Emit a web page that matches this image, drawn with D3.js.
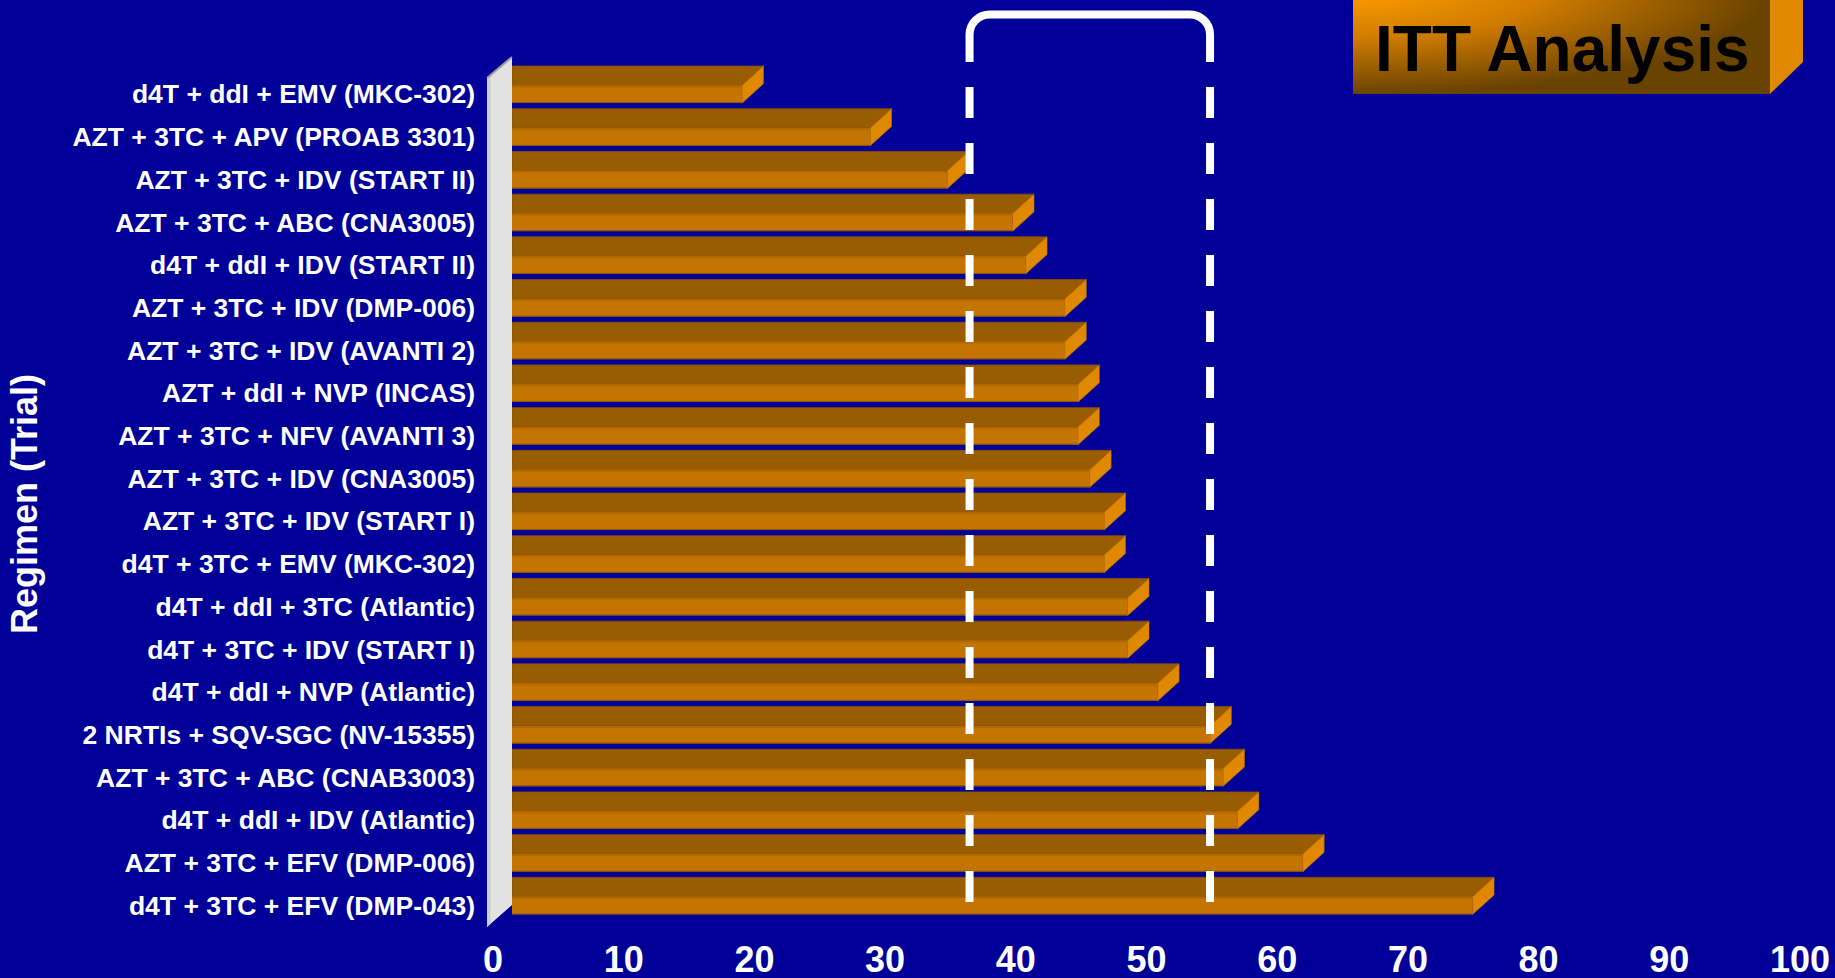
<!DOCTYPE html>
<html>
<head>
<meta charset="utf-8">
<script src="https://cdn.jsdelivr.net/npm/d3@7/dist/d3.min.js"></script>
<style>
  html, body { margin: 0; padding: 0; background: #000099; overflow: hidden; }
  svg { display: block; font-family: "Liberation Sans", Arial, sans-serif; }
</style>
</head>
<body>
<svg id="chart" width="1835" height="978"></svg>
<script>
// Regimens (trial), listed top to bottom
const categories = [
  "d4T + ddI + EMV (MKC-302)",
  "AZT + 3TC + APV (PROAB 3301)",
  "AZT + 3TC + IDV (START II)",
  "AZT + 3TC + ABC (CNA3005)",
  "d4T + ddI + IDV (START II)",
  "AZT + 3TC + IDV (DMP-006)",
  "AZT + 3TC + IDV (AVANTI 2)",
  "AZT + ddI + NVP (INCAS)",
  "AZT + 3TC + NFV (AVANTI 3)",
  "AZT + 3TC + IDV (CNA3005)",
  "AZT + 3TC + IDV (START I)",
  "d4T + 3TC + EMV (MKC-302)",
  "d4T + ddI + 3TC (Atlantic)",
  "d4T + 3TC + IDV (START I)",
  "d4T + ddI + NVP (Atlantic)",
  "2 NRTIs + SQV-SGC (NV-15355)",
  "AZT + 3TC + ABC (CNAB3003)",
  "d4T + ddI + IDV (Atlantic)",
  "AZT + 3TC + EFV (DMP-006)",
  "d4T + 3TC + EFV (DMP-043)"
];

// ITT response (%) per regimen
const values = [
  19.1, 28.9, 34.8, 39.8, 40.8, 43.8, 43.8, 44.8, 44.8, 45.7,
  46.8, 46.8, 48.6, 48.6, 50.9, 54.9, 55.9, 57.0, 62.0, 75.0
];

// Value axis ticks
const xTicks = [0, 10, 20, 30, 40, 50, 60, 70, 80, 90, 100];

// Bracketed reference range on the value axis
const rangeBounds = [36.5, 54.9];

const titleText = "ITT Analysis";
const yTitle = "Regimen (Trial)";

const svg = d3.select("#chart");

const x = d3.scaleLinear().domain([0, 100]).range([492.5, 1799.5]);
const y = d3.scaleBand().domain(categories).range([72.85, 926.85]).padding(0);

// 3D extrusion offsets
const depthX = 21.3, depthY = 19.3, faceH = 17.7;
const wallFront = 487, wallBack = 512;

// ---- title box ----
const defs = svg.append("defs");
const tg = defs.append("radialGradient")
  .attr("id", "titleGrad")
  .attr("gradientUnits", "objectBoundingBox")
  .attr("cx", 0).attr("cy", 0).attr("fx", 0).attr("fy", 0).attr("r", 1);
tg.append("stop").attr("offset", "0%").attr("stop-color", "#ff9e00");
tg.append("stop").attr("offset", "45%").attr("stop-color", "#d27d00");
tg.append("stop").attr("offset", "100%").attr("stop-color", "#6a4300");

const tb = { x0: 1353, x1: 1770, y0: -10, y1: 94, dx: 33, dy: 32 };
svg.append("polygon")
  .attr("points", [[tb.x1, tb.y0], [tb.x1 + tb.dx, tb.y0], [tb.x1 + tb.dx, tb.y1 - tb.dy], [tb.x1, tb.y1]].join(" "))
  .attr("fill", "#e08800");
svg.append("rect")
  .attr("x", tb.x0).attr("y", tb.y0)
  .attr("width", tb.x1 - tb.x0).attr("height", tb.y1 - tb.y0)
  .attr("fill", "url(#titleGrad)");
svg.append("text")
  .attr("x", 1375).attr("y", 71)
  .attr("font-size", 64).attr("font-weight", "bold")
  .attr("fill", "#000")
  .text(titleText);

// ---- bars ----
const bars = svg.append("g").attr("class", "bars");
const rows = categories.map((c, i) => ({ cat: c, v: values[i] }));

const barG = bars.selectAll("g").data(rows).join("g");

barG.each(function (d) {
  const g = d3.select(this);
  const c = y(d.cat) + y.bandwidth() / 2;
  const ft = c - faceH / 2;
  const xe = x(d.v);
  // top face
  g.append("polygon")
    .attr("points", [[wallBack, ft], [wallBack, ft - depthY], [xe + depthX, ft - depthY], [xe, ft]].join(" "))
    .attr("fill", "#9a5c00")
    .attr("stroke", "#8a5200").attr("stroke-width", 0.8);
  // front face
  g.append("rect")
    .attr("x", wallBack).attr("y", ft)
    .attr("width", xe - wallBack).attr("height", faceH)
    .attr("fill", "#c47400");
  g.append("rect")
    .attr("x", wallBack).attr("y", ft)
    .attr("width", xe - wallBack).attr("height", 2)
    .attr("fill", "#b06a00");
  g.append("line")
    .attr("x1", wallBack).attr("x2", xe)
    .attr("y1", ft + faceH - 0.5).attr("y2", ft + faceH - 0.5)
    .attr("stroke", "#8e5500").attr("stroke-width", 1);
  // end cap
  g.append("polygon")
    .attr("points", [[xe, ft], [xe + depthX, ft - depthY], [xe + depthX, ft - depthY + faceH], [xe, ft + faceH]].join(" "))
    .attr("fill", "#e08800")
    .attr("stroke", "#c27400").attr("stroke-width", 0.6);
});

// ---- side wall ----
svg.append("polygon")
  .attr("points", [[wallFront, 78], [wallBack, 57], [wallBack, 905], [wallFront, 927]].join(" "))
  .attr("fill", "#e2e2e2");
svg.append("polygon")
  .attr("points", [[wallFront, 78], [wallFront + 3.5, 75], [wallFront + 3.5, 924], [wallFront, 927]].join(" "))
  .attr("fill", "#cdcdcd");
svg.append("line")
  .attr("x1", wallFront).attr("y1", 78).attr("x2", wallBack).attr("y2", 57)
  .attr("stroke", "#9c9c9c").attr("stroke-width", 2);

// ---- category labels ----
svg.append("g").selectAll("text").data(categories).join("text")
  .attr("x", 475)
  .attr("y", d => y(d) + y.bandwidth() / 2)
  .attr("dy", "0.35em")
  .attr("text-anchor", "end")
  .attr("font-size", 26.5).attr("font-weight", "bold")
  .attr("fill", "#fff")
  .text(d => d);

// ---- value axis ----
const axis = svg.append("g")
  .attr("transform", "translate(0,972)")
  .call(d3.axisBottom(x).tickValues(xTicks).tickSize(0).tickFormat(d3.format("d")));
axis.select(".domain").remove();
axis.selectAll("text")
  .attr("y", 0).attr("dy", 0)
  .attr("font-size", 36).attr("font-weight", "bold")
  .attr("font-family", "'Liberation Sans', Arial, sans-serif")
  .attr("fill", "#fff");

// ---- axis title ----
svg.append("text")
  .attr("transform", "translate(37,504) rotate(-90)")
  .attr("text-anchor", "middle")
  .attr("font-size", 36).attr("font-weight", "bold")
  .attr("fill", "#fff")
  .text(yTitle);

// ---- reference range bracket ----
const bx1 = x(rangeBounds[0]), bx2 = x(rangeBounds[1]);
const topY = 14.5, rad = 20, solidEnd = 62;
const br = d3.path();
br.moveTo(bx1, solidEnd);
br.lineTo(bx1, topY + rad);
br.arcTo(bx1, topY, bx1 + rad, topY, rad);
br.lineTo(bx2 - rad, topY);
br.arcTo(bx2, topY, bx2, topY + rad, rad);
br.lineTo(bx2, solidEnd);
svg.append("path")
  .attr("d", br.toString())
  .attr("fill", "none")
  .attr("stroke", "#fff").attr("stroke-width", 8);

svg.append("g").selectAll("line").data(rangeBounds).join("line")
  .attr("x1", d => x(d)).attr("x2", d => x(d))
  .attr("y1", 87).attr("y2", 902)
  .attr("stroke", "#fff").attr("stroke-width", 8)
  .attr("stroke-dasharray", "31 25");
</script>
</body>
</html>
